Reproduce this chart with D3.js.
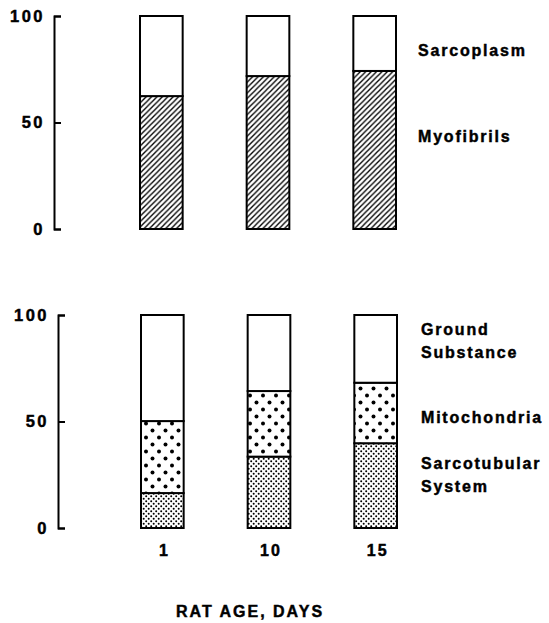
<!DOCTYPE html>
<html><head><meta charset="utf-8">
<script src="https://cdn.jsdelivr.net/npm/d3@7"></script>
<style>
body{margin:0;background:#fff;}
text{font-family:"Liberation Sans",Arial,sans-serif;font-weight:bold;fill:#000;stroke:#000;stroke-width:0.45px;}
</style></head>
<body><svg id="c" width="549" height="623"></svg>
<script>
const ages = ["1", "10", "15"];
const yTicks = [0, 50, 100];
const myofibrils = [62.4, 71.8, 74.2];
const sarcoplasm = [37.6, 28.2, 25.8];
const sarcotubular = [16.4, 33.5, 39.8];
const mitochondria = [33.8, 30.8, 28.4];
const groundSubstance = [49.8, 35.7, 31.8];
const topLegend = [["Sarcoplasm"], ["Myofibrils"]];
const bottomLegend = [["Ground", "Substance"], ["Mitochondria"], ["Sarcotubular", "System"]];
const xTitle = "RAT AGE, DAYS";

const svg = d3.select("#c");
const defs = svg.append("defs");
// hatch
const P = 5.4;
const ph = defs.append("pattern").attr("id","hatch").attr("patternUnits","userSpaceOnUse").attr("width",P).attr("height",P);
ph.append("rect").attr("width",P).attr("height",P).attr("fill","#fff");
ph.append("path").attr("d",`M-1,${P+1} L${P+1},-1 M-1,1 L1,-1 M${P-1},${P+1} L${P+1},${P-1}`).attr("stroke","#000").attr("stroke-width",1.35);
// big dots
const pb = defs.append("pattern").attr("id","bigdots").attr("patternUnits","userSpaceOnUse").attr("width",13).attr("height",14);
pb.append("rect").attr("width",13).attr("height",14).attr("fill","#fff");
pb.append("circle").attr("cx",3).attr("cy",3.5).attr("r",2).attr("fill","#000");
pb.append("circle").attr("cx",9.5).attr("cy",10.5).attr("r",2).attr("fill","#000");
// fine dots
const pf = defs.append("pattern").attr("id","finedots").attr("patternUnits","userSpaceOnUse").attr("width",5).attr("height",5);
pf.append("rect").attr("width",5).attr("height",5).attr("fill","#fff");
pf.append("circle").attr("cx",1.2).attr("cy",1.2).attr("r",1).attr("fill","#000");
pf.append("circle").attr("cx",3.7).attr("cy",3.7).attr("r",1).attr("fill","#000");

const x = d3.scaleBand().domain(ages).range([108, 428]).paddingInner(0.6).paddingOuter(0.3);

function panel(axisX, y0, y1, dx, series, fills, legend, legendX, legendY) {
  const y = d3.scaleLinear().domain([0,100]).range([y0, y1]);
  const g = svg.append("g");
  const ax = g.append("g").attr("transform",`translate(${axisX},0)`)
    .call(d3.axisLeft(y).tickValues(yTicks).tickSizeInner(-7).tickSizeOuter(-7).tickPadding(9));
  ax.select(".domain").attr("stroke","#000").attr("stroke-width",2);
  ax.selectAll(".tick line").attr("stroke","#000").attr("stroke-width",2);
  ax.selectAll(".tick text").attr("font-size",16.5).attr("letter-spacing",2.5)
    .attr("font-family","Liberation Sans, Arial, sans-serif").attr("font-weight","bold");
  const stack = ages.map((a,i) => {
    let acc = 0;
    return series.map((s,k) => { const r = {a, k, lo: acc, hi: acc + s[i]}; acc += s[i]; return r; });
  }).flat();
  g.selectAll("rect.seg").data(stack).join("rect").attr("class","seg")
    .attr("x", d => x(d.a) + dx).attr("width", x.bandwidth())
    .attr("y", d => y(Math.min(100,d.hi))).attr("height", d => y(d.lo) - y(Math.min(100,d.hi)))
    .attr("fill", d => fills[d.k]).attr("stroke","#000").attr("stroke-width",2);
  legend.forEach((lines, i) => {
    const t = g.append("text").attr("x", legendX).attr("y", legendY[i]).attr("font-size",16).attr("letter-spacing",1.8);
    lines.forEach((ln, j) => t.append("tspan").attr("x", legendX).attr("dy", j ? 22.5 : 0).text(ln));
  });
  return y;
}

panel(54, 229, 16, 0, [myofibrils, sarcoplasm], ["url(#hatch)", "#fff"], topLegend, 418, [56, 142]);
panel(58, 528, 315, 1, [sarcotubular, mitochondria, groundSubstance], ["url(#finedots)", "url(#bigdots)", "#fff"], bottomLegend, 421, [335, 423, 469]);

svg.append("g").selectAll("text").data(ages).join("text")
  .attr("x", d => x(d) + x.bandwidth()/2 + 3).attr("y", 556).attr("text-anchor","middle")
  .attr("font-size",16).attr("letter-spacing",2).text(d => d);
svg.append("text").attr("x", 250).attr("y", 617).attr("text-anchor","middle")
  .attr("font-size",16).attr("letter-spacing",2).text(xTitle);
</script></body></html>
